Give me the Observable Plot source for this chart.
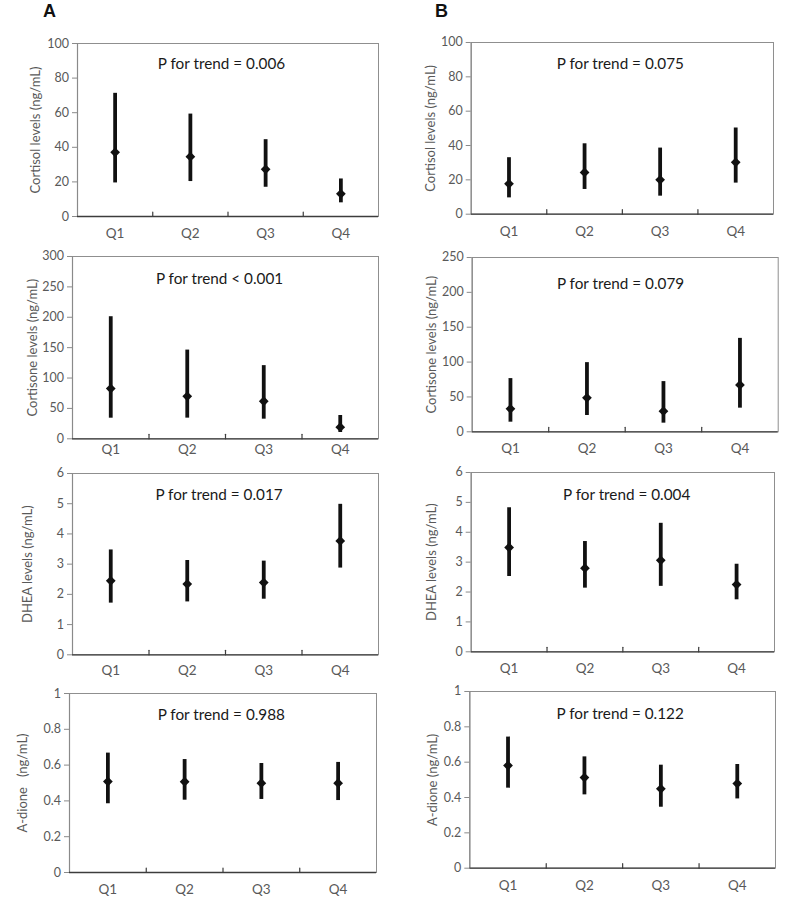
<!DOCTYPE html>
<html>
<head>
<meta charset="utf-8">
<script src="https://cdn.jsdelivr.net/npm/d3@7"></script>
<script src="https://cdn.jsdelivr.net/npm/@observablehq/plot@0.6"></script>
<style>
  html, body { margin: 0; padding: 0; background: #fff; }
  #root { position: relative; width: 800px; height: 914px; background: #fff; overflow: hidden; }
  .panel { position: absolute; }
  .tag { position: absolute; font-family: "Liberation Sans", Arial, sans-serif; font-weight: bold; font-size: 18px; color: #111; }
</style>
</head>
<body>
<div id="root">
  <div class="tag" style="left:43px; top:1px;">A</div>
  <div class="tag" style="left:435px; top:1px;">B</div>
</div>
<script>
// ---------- data ----------
const quartiles = ["Q1", "Q2", "Q3", "Q4"];

const cortisolTicks = [0, 20, 40, 60, 80, 100];
const cortisoneTicksA = [0, 50, 100, 150, 200, 250, 300];
const cortisoneTicksB = [0, 50, 100, 150, 200, 250];
const dheaTicks = [0, 1, 2, 3, 4, 5, 6];
const adioneTicks = [0, 0.2, 0.4, 0.6, 0.8, 1];

// Panel A
const cortisolA_mean = [37.1, 34.6, 27.3, 13.1];
const cortisolA_low  = [19.4, 20.2, 16.9, 7.9];
const cortisolA_high = [71.2, 59.2, 44.4, 21.7];

const cortisoneA_mean = [82.6, 70, 61.8, 19.2];
const cortisoneA_low  = [33.9, 34, 32.3, 10.4];
const cortisoneA_high = [200.9, 146, 120.4, 38.3];

const dheaA_mean = [2.45, 2.34, 2.39, 3.77];
const dheaA_low  = [1.71, 1.75, 1.84, 2.87];
const dheaA_high = [3.47, 3.12, 3.10, 4.98];

const adioneA_mean = [0.508, 0.507, 0.499, 0.499];
const adioneA_low  = [0.384, 0.404, 0.408, 0.402];
const adioneA_high = [0.667, 0.631, 0.609, 0.615];

// Panel B
const cortisolB_mean = [17.7, 24.3, 20.0, 30.2];
const cortisolB_low  = [9.5, 14.4, 10.5, 18.1];
const cortisolB_high = [32.9, 41.0, 38.5, 50.2];

const cortisoneB_mean = [32.9, 48.7, 29.6, 67.3];
const cortisoneB_low  = [13.8, 23.4, 12.4, 33.9];
const cortisoneB_high = [76.3, 99.2, 72.0, 134];

const dheaB_mean = [3.49, 2.80, 3.06, 2.25];
const dheaB_low  = [2.52, 2.13, 2.19, 1.74];
const dheaB_high = [4.82, 3.69, 4.30, 2.93];

const adioneB_mean = [0.581, 0.513, 0.449, 0.479];
const adioneB_low  = [0.453, 0.415, 0.345, 0.392];
const adioneB_high = [0.742, 0.630, 0.583, 0.587];

const yTitles = {
  cortisol: "Cortisol levels (ng/mL)",
  cortisone: "Cortisone levels (ng/mL)",
  dhea: "DHEA levels (ng/mL)",
  adioneA: "A-dione\u00a0\u00a0\u00a0(ng/mL)",
  adioneB: "A-dione (ng/mL)"
};

const pTexts = {
  A1: "P for trend = 0.006", A2: "P for trend < 0.001", A3: "P for trend = 0.017", A4: "P for trend = 0.988",
  B1: "P for trend = 0.075", B2: "P for trend = 0.079", B3: "P for trend = 0.004", B4: "P for trend = 0.122"
};

// ---------- layout (pixel frame of each panel) ----------
const panels = [
  {col: 0, x0: 77,    x1: 378,   yTop: 43,    yBot: 216,   ticks: cortisolTicks,   mean: cortisolA_mean,  low: cortisolA_low,  high: cortisolA_high,  title: yTitles.cortisol,  titleDist: 42,   p: pTexts.A1, pdy: 21,   pdx: -6.5, qgap: 19},
  {col: 0, x0: 72,    x1: 378,   yTop: 255.7, yBot: 438,   ticks: cortisoneTicksA, mean: cortisoneA_mean, low: cortisoneA_low, high: cortisoneA_high, title: yTitles.cortisone, titleDist: 40,   p: pTexts.A2, pdy: 22.3, pdx: -6,   qgap: 13},
  {col: 0, x0: 72,    x1: 378,   yTop: 472.7, yBot: 654,   ticks: dheaTicks,       mean: dheaA_mean,      low: dheaA_low,      high: dheaA_high,      title: yTitles.dhea,      titleDist: 44.5, p: pTexts.A3, pdy: 21.8, pdx: -6.5, qgap: 18},
  {col: 0, x0: 69,    x1: 376,   yTop: 693,   yBot: 872,   ticks: adioneTicks,     mean: adioneA_mean,    low: adioneA_low,    high: adioneA_high,    title: yTitles.adioneA,   titleDist: 46.5, p: pTexts.A4, pdy: 21.5, pdx: -1.7, qgap: 19},
  {col: 1, x0: 470.7, x1: 773,   yTop: 42,    yBot: 213.7, ticks: cortisolTicks,   mean: cortisolB_mean,  low: cortisolB_low,  high: cortisolB_high,  title: yTitles.cortisol,  titleDist: 40,   p: pTexts.B1, pdy: 21.7, pdx: -2,   qgap: 19},
  {col: 1, x0: 471.7, x1: 777.7, yTop: 256.7, yBot: 431,   ticks: cortisoneTicksB, mean: cortisoneB_mean, low: cortisoneB_low, high: cortisoneB_high, title: yTitles.cortisone, titleDist: 40.7, p: pTexts.B2, pdy: 26.6, pdx: -4.7, qgap: 19},
  {col: 1, x0: 470.7, x1: 774,   yTop: 472,   yBot: 651.3, ticks: dheaTicks,       mean: dheaB_mean,      low: dheaB_low,      high: dheaB_high,      title: yTitles.dhea,      titleDist: 39,   p: pTexts.B3, pdy: 22.5, pdx: 3.8,  qgap: 19},
  {col: 1, x0: 469.3, x1: 775,   yTop: 691,   yBot: 867.7, ticks: adioneTicks,     mean: adioneB_mean,    low: adioneB_low,    high: adioneB_high,    title: yTitles.adioneB,   titleDist: 36.8, p: pTexts.B4, pdy: 22.7, pdx: -2.5, qgap: 19}
];

const root = document.getElementById("root");
const tickShape = {
  draw(context, l) { context.moveTo(0, 0); context.lineTo(0, -l); }
};

for (const cfg of panels) {
  const left = cfg.col * 400;
  const padTop = 25, padBottom = 34;
  const top = cfg.yTop - padTop;
  const height = (cfg.yBot - cfg.yTop) + padTop + padBottom;
  const rows = quartiles.map((q, i) => ({q, x: i + 0.5, mean: cfg.mean[i], lo: cfg.low[i], hi: cfg.high[i]}));
  const labelPositions = quartiles.map((q, i) => i + 0.5);

  const chart = Plot.plot({
    width: 400,
    height,
    marginLeft: cfg.x0 - left,
    marginRight: left + 400 - cfg.x1,
    marginTop: padTop,
    marginBottom: padBottom,
    style: {background: "transparent", fontFamily: "Lato, 'Open Sans', sans-serif", overflow: "visible"},
    x: {domain: [0, quartiles.length]},
    y: {domain: [cfg.ticks[0], cfg.ticks[cfg.ticks.length - 1]]},
    marks: [
      Plot.frame({stroke: "#8f8f8f", strokeWidth: 1}),
      Plot.ruleX([0], {stroke: "#8a8a8a", strokeWidth: 1.2}),
      Plot.ruleY([cfg.ticks[0]], {stroke: "#3c3c3c", strokeWidth: 1.3}),
      Plot.vector(labelPositions.slice(1).map((d) => d - 0.5), {
        x: (d) => d, frameAnchor: "bottom", length: 4.5, rotate: 0, anchor: "start",
        shape: tickShape, stroke: "#3c3c3c", strokeWidth: 1.2
      }),
      Plot.axisY({
        ticks: cfg.ticks, tickFormat: (d) => String(d), tickSize: 5, tickPadding: 3.5,
        fontSize: 12.5, color: "#595959", stroke: "#8a8a8a", label: null
      }),
      Plot.axisX({
        ticks: labelPositions, tickFormat: (d) => quartiles[Math.floor(d)], tickSize: 0,
        tickPadding: cfg.qgap - 7, fontSize: 13.5, color: "#595959", label: null
      }),
      Plot.ruleX(rows, {x: "x", y1: "lo", y2: "hi", stroke: "#111", strokeWidth: 3.8}),
      Plot.dot(rows, {x: "x", y: "mean", symbol: "diamond2", r: 4.4, fill: "#111", stroke: "none"}),
      Plot.text([cfg.p], {
        text: (d) => d, frameAnchor: "top", dy: cfg.pdy, dx: cfg.pdx, lineAnchor: "middle",
        fontSize: 15.3, fill: "#1a1a1a"
      }),
      Plot.text([cfg.title], {
        text: (d) => d, frameAnchor: "left", dx: -cfg.titleDist, rotate: -90,
        textAnchor: "middle", lineAnchor: "middle", fontSize: 13, fill: "#595959"
      })
    ]
  });
  const wrap = document.createElement("div");
  wrap.className = "panel";
  wrap.style.left = left + "px";
  wrap.style.top = top + "px";
  wrap.appendChild(chart);
  root.appendChild(wrap);
}
</script>
</body>
</html>
